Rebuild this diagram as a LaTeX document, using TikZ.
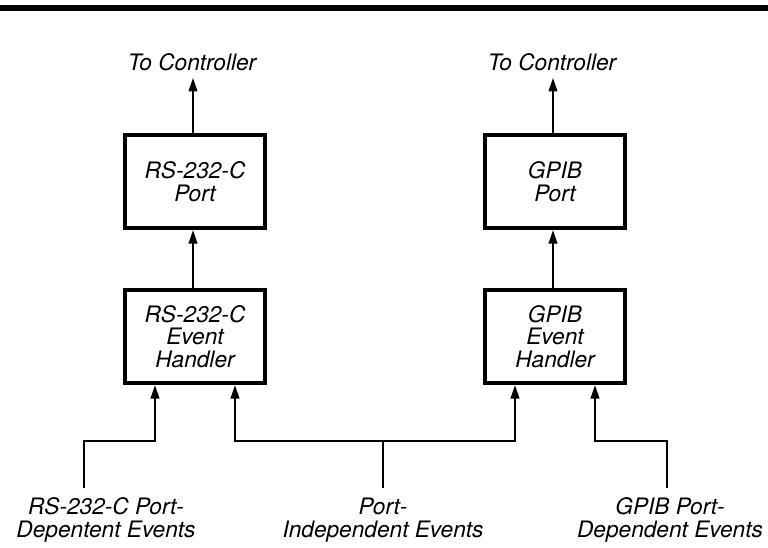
\documentclass[tikz,border=0pt]{standalone}
\usepackage{fontspec}
\setmainfont{TeX Gyre Heros}
\usetikzlibrary{arrows.meta}
\begin{document}
\begin{tikzpicture}[x=0.75pt,y=-0.75pt,
  lbl/.style={font=\fontsize{17}{17.5}\selectfont\itshape, align=center, inner sep=0pt},
  blk/.style={draw, line width=3pt, minimum width=105pt, minimum height=70pt,
     font=\fontsize{17}{17}\selectfont\itshape, align=center, inner sep=0pt},
  arr/.style={line width=1.4pt, -{Triangle[length=10pt,width=6.5pt]}},
  wire/.style={line width=1.4pt}]
\useasboundingbox (0,0) rectangle (768,547);
\draw[line width=4.5pt] (0,8) -- (768,8);

\node[blk] (p1) at (195,181.5) {RS-232-C\\Port};
\node[blk] (p2) at (555,181.5) {GPIB\\Port};
\node[blk] (e1) at (195,336.5) {RS-232-C\\Event\\Handler};
\node[blk] (e2) at (555,336.5) {GPIB\\Event\\Handler};

\node[lbl] (c1) at (192,62) {To Controller};
\node[lbl] (c2) at (552,62) {To Controller};
\coordinate (t1) at (193,78);
\coordinate (t2) at (553,78);
\draw[arr] (p1.north -| t1) -- (t1);
\draw[arr] (p2.north -| t2) -- (t2);
\draw[arr] (e1.north -| t1) -- (p1.south -| t1);
\draw[arr] (e2.north -| t2) -- (p2.south -| t2);

\node[lbl] (l1) at (106,520) {RS-232-C Port-\\Depentent Events};
\node[lbl] (l2) at (383,520) {Port-\\Independent Events};
\node[lbl] (l3) at (670,520) {GPIB Port-\\Dependent Events};

\coordinate (a0) at (84,488);
\coordinate (a1) at (84,441);
\coordinate (a2) at (155,441);
\draw[arr] (a0) -- (a1) -- (a2) -- (e1.south -| a2);

\coordinate (m0) at (383,488);
\coordinate (m1) at (383,441);
\coordinate (m2) at (235,441);
\coordinate (m3) at (515,441);
\draw[wire] (m0) -- (m1);
\draw[arr] (m1) -- (m2) -- (e1.south -| m2);
\draw[arr] (m1) -- (m3) -- (e2.south -| m3);

\coordinate (b0) at (667,488);
\coordinate (b1) at (667,441);
\coordinate (b2) at (595,441);
\draw[arr] (b0) -- (b1) -- (b2) -- (e2.south -| b2);
\end{tikzpicture}
\end{document}
